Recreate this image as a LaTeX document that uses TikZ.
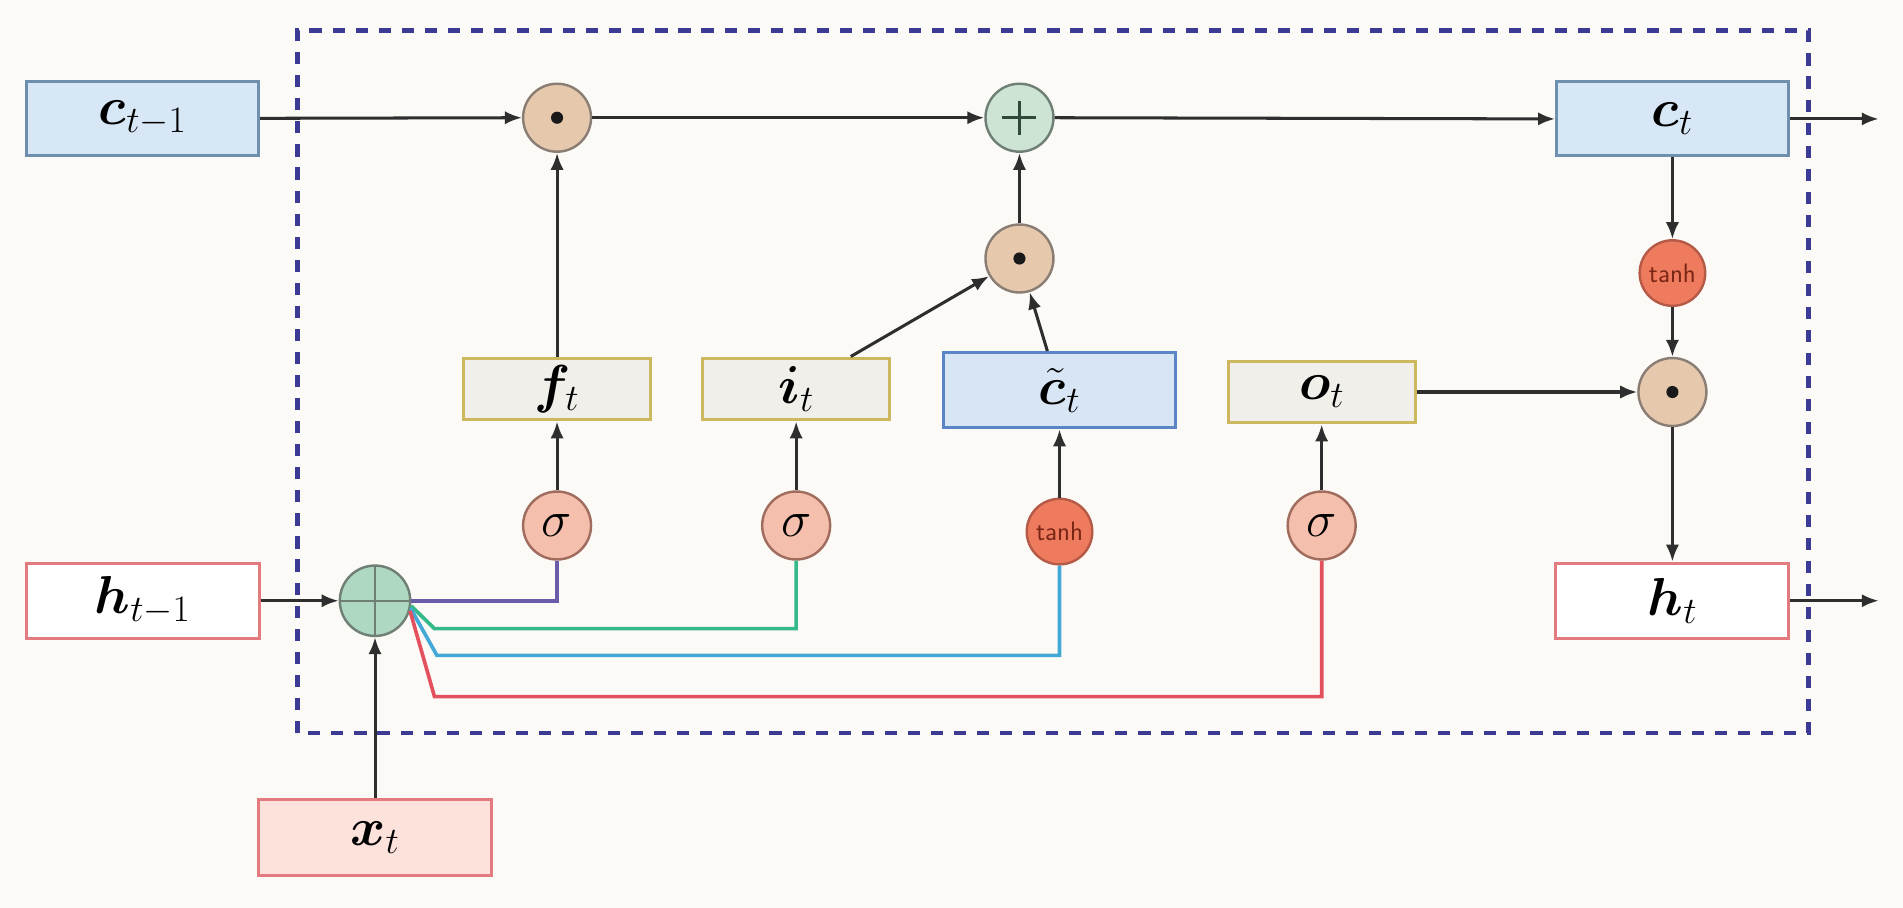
\RequirePackage{fix-cm}
\documentclass[tikz,border=0pt]{standalone}
\usepackage{bm}
\usetikzlibrary{arrows.meta,calc}
\definecolor{bg}{HTML}{FCFAF6}
\definecolor{lineC}{HTML}{2E2E2E}
\definecolor{cfill}{HTML}{D8E7F5}
\definecolor{cdraw}{HTML}{6F8FAF}
\definecolor{ctfill}{HTML}{D8E5F5}
\definecolor{ctdraw}{HTML}{5A86C5}
\definecolor{gfill}{HTML}{F0EFEA}
\definecolor{gdraw}{HTML}{CDB860}
\definecolor{hdraw}{HTML}{E27A7F}
\definecolor{xfill}{HTML}{FCE2DA}
\definecolor{dotf}{HTML}{E6C9AD}
\definecolor{dotb}{HTML}{8A7E74}
\definecolor{plusf}{HTML}{CDE3D4}
\definecolor{plusb}{HTML}{6F7F75}
\definecolor{plussign}{HTML}{2F4A3A}
\definecolor{catf}{HTML}{AED8C2}
\definecolor{sigf}{HTML}{F5BFAE}
\definecolor{sigb}{HTML}{A06C5E}
\definecolor{tanf}{HTML}{EF7B5F}
\definecolor{tanb}{HTML}{B55A46}
\definecolor{tantext}{HTML}{7A2615}
\definecolor{dashC}{HTML}{3B3B96}
\definecolor{purpleL}{HTML}{6C5BA8}
\definecolor{greenL}{HTML}{34B98A}
\definecolor{cyanL}{HTML}{42A9D6}
\definecolor{redL}{HTML}{E3505E}
\tikzset{
  lbl/.style={font=\fontsize{44}{48}\selectfont},
  boxbase/.style={rectangle, line width=2.5pt, inner sep=0pt, lbl},
  cbox/.style={boxbase, draw=cdraw, fill=cfill, minimum width=191pt, minimum height=61pt},
  ctbox/.style={boxbase, draw=ctdraw, fill=ctfill, minimum width=191pt, minimum height=62pt},
  gbox/.style={boxbase, draw=gdraw, fill=gfill, minimum width=154pt, minimum height=51pt},
  hbox/.style={boxbase, draw=hdraw, fill=white, minimum width=192pt, minimum height=62pt},
  xbox/.style={boxbase, draw=hdraw, fill=xfill, minimum width=192pt, minimum height=62pt},
  circbase/.style={circle, line width=2pt, inner sep=0pt, minimum size=56pt},
  dotc/.style={circbase, draw=dotb, fill=dotf,
    path picture={\fill[black!90] (path picture bounding box.center) circle (5pt);}},
  plusc/.style={circbase, draw=plusb, fill=plusf,
    path picture={\draw[line width=2.5pt, plussign]
      ($(path picture bounding box.center)+(-14pt,0)$) -- ++(28pt,0)
      ($(path picture bounding box.center)+(0,-14pt)$) -- ++(0,28pt);}},
  catc/.style={circle, line width=2pt, inner sep=0pt, minimum size=58pt, draw=plusb, fill=catf,
    path picture={\draw[line width=2pt, plusb]
      (path picture bounding box.north) -- (path picture bounding box.south)
      (path picture bounding box.west) -- (path picture bounding box.east);}},
  sigc/.style={circbase, draw=sigb, fill=sigf, font=\fontsize{42}{42}\selectfont},
  tanc/.style={circbase, draw=tanb, fill=tanf, minimum size=54pt, text=tantext,
    font=\sffamily\fontsize{22}{22}\selectfont},
  arr/.style={draw=lineC, line width=2.5pt, -{Latex[length=14pt,width=11pt]}},
  cline/.style={line width=3pt, line join=miter},
}
\begin{document}
\begin{tikzpicture}[x=1pt,y=1pt]
\fill[bg] (0,0) rectangle (1568,748);
\useasboundingbox (0,0) rectangle (1568,748);

% dashed cell boundary
\draw[dashC, line width=4pt, dash pattern=on 10pt off 9pt] (245,144) rectangle (1490,723);

% boxes
\node[cbox] (cprev) at (117.5,650.5) {$\bm{c}_{t-1}$};
\node[cbox] (ct) at (1378,650) {$\bm{c}_t$};
\node[hbox] (hprev) at (117.5,253) {$\bm{h}_{t-1}$};
\node[hbox] (ht) at (1378,253) {$\bm{h}_t$};
\node[xbox] (xt) at (309,58) {$\bm{x}_t$};
\node[gbox] (ft) at (459,427.5) {$\bm{f}_t$};
\node[gbox] (it) at (656,427.5) {$\bm{i}_t$};
\node[ctbox] (cand) at (873,426.5) {$\tilde{\bm{c}}_t$};
\node[gbox] (ot) at (1089,425) {$\bm{o}_t$};

% operators
\node[dotc] (m1) at (459,651) {};
\node[plusc] (add) at (840,651) {};
\node[dotc] (m2) at (840,535) {};
\node[tanc] (tanh2) at (1378,523) {tanh};
\node[dotc] (m3) at (1378,425) {};
\node[sigc] (sf) at (459,315) {$\sigma$};
\node[sigc] (si) at (656,315) {$\sigma$};
\node[tanc] (tanh1) at (873,310) {tanh};
\node[sigc] (so) at (1089,315) {$\sigma$};
\node[catc] (cat) at (309,253) {};

\coordinate (cout) at (1548,650);
\coordinate (hout) at (1548,253);

% black connectors
\draw[arr] (cprev.east) -- (m1.west);
\draw[arr] (m1.east) -- (add.west);
\draw[arr] (add.east) -- (ct.west);
\draw[arr] (ct.east) -- (cout);
\draw[arr] (ft.north) -- (m1.south);
\draw[arr] ([xshift=45pt]it.north) -- (m2);
\draw[arr] ([xshift=-10pt]cand.north) -- (m2);
\draw[arr] (m2.north) -- (add.south);
\draw[arr] (ct.south) -- (tanh2.north);
\draw[arr] (tanh2.south) -- (m3.north);
\draw[arr] (ot.east) -- (m3.west);
\draw[arr] (m3.south) -- (ht.north);
\draw[arr] (ht.east) -- (hout);
\draw[arr] (hprev.east) -- (cat.west);
\draw[arr] (xt.north) -- (cat.south);
\draw[arr] (sf.north) -- (ft.south);
\draw[arr] (si.north) -- (it.south);
\draw[arr] (tanh1.north) -- (cand.south);
\draw[arr] (so.north) -- (ot.south);

% coloured feeds from the concatenation
\coordinate (g1) at (358,230);
\coordinate (b1) at (360,208);
\coordinate (r1) at (358,174);
\draw[cline, purpleL] (cat.east) -- (cat.east -| sf) -- (sf.south);
\draw[cline, greenL] (cat.-8) -- (g1) -- (g1 -| si) -- (si.south);
\draw[cline, cyanL] (cat.-12) -- (b1) -- (b1 -| tanh1) -- (tanh1.south);
\draw[cline, redL] (cat.-16) -- (r1) -- (r1 -| so) -- (so.south);
\end{tikzpicture}
\end{document}
